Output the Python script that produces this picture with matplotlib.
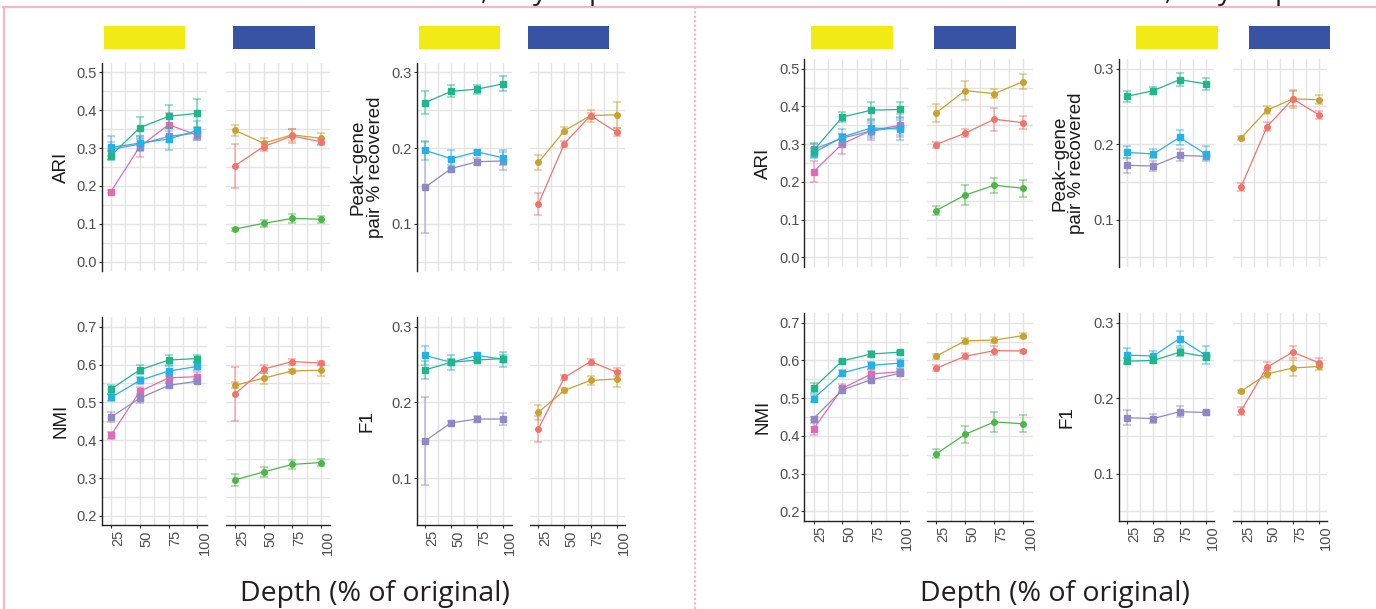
import numpy as np
import matplotlib
matplotlib.use('Agg')
import matplotlib.pyplot as plt
from matplotlib.patches import Rectangle
from matplotlib.lines import Line2D
from matplotlib.ticker import FormatStrFormatter

plt.rcParams['font.family'] = ['Liberation Sans', 'DejaVu Sans']

W, H = 1376, 609

depth = [25, 50, 75, 100]

COLOURS = {
    "teal": "#1DB68D", "cyan": "#24B1E6", "purple": "#8F88C5", "pink": "#DE6CB4",
    "gold": "#C9A12D", "salmon": "#F0736C", "green": "#4BB748",
}
SQUARES = ["pink", "purple", "cyan", "teal"]
CIRCLES = ["green", "gold", "salmon"]

# ---- left half ----
ari_a_mean = {"teal": [0.280, 0.354, 0.384, 0.392], "cyan": [0.302, 0.313, 0.324, 0.347],
              "purple": [0.297, 0.310, 0.331, 0.340], "pink": [0.185, 0.304, 0.362, 0.334],
              "gold": [0.347, 0.313, 0.335, 0.326], "salmon": [0.253, 0.304, 0.332, 0.317],
              "green": [0.086, 0.101, 0.114, 0.112]}
ari_a_err = {"teal": [0.012, 0.028, 0.030, 0.037], "cyan": [0.030, 0.020, 0.028, 0.025],
             "purple": [0.018, 0.015, 0.015, 0.012], "pink": [0.005, 0.027, 0.030, 0.012],
             "gold": [0.014, 0.015, 0.015, 0.015], "salmon": [0.058, 0.012, 0.018, 0.008],
             "green": [0.004, 0.010, 0.013, 0.009]}

peak_a_mean = {"teal": [0.260, 0.275, 0.278, 0.285], "cyan": [0.197, 0.186, 0.195, 0.187],
               "purple": [0.148, 0.173, 0.182, 0.183],
               "gold": [0.181, 0.223, 0.243, 0.244], "salmon": [0.126, 0.206, 0.243, 0.221]}
peak_a_err = {"teal": [0.015, 0.008, 0.006, 0.010], "cyan": [0.013, 0.012, 0.003, 0.010],
              "purple": [0.060, 0.005, 0.005, 0.012],
              "gold": [0.010, 0.005, 0.008, 0.017], "salmon": [0.015, 0.004, 0.004, 0.005]}

nmi_a_mean = {"teal": [0.535, 0.586, 0.612, 0.616], "cyan": [0.513, 0.558, 0.583, 0.595],
              "purple": [0.461, 0.511, 0.545, 0.556], "pink": [0.413, 0.529, 0.565, 0.568],
              "gold": [0.545, 0.564, 0.583, 0.585], "salmon": [0.522, 0.588, 0.608, 0.604],
              "green": [0.295, 0.316, 0.336, 0.341]}
nmi_a_err = {"teal": [0.012, 0.012, 0.012, 0.008], "cyan": [0.010, 0.010, 0.012, 0.010],
             "purple": [0.014, 0.012, 0.006, 0.006], "pink": [0.010, 0.012, 0.010, 0.012],
             "gold": [0.008, 0.015, 0.006, 0.014], "salmon": [0.072, 0.010, 0.008, 0.006],
             "green": [0.015, 0.014, 0.012, 0.008]}

f1_a_mean = {"teal": [0.243, 0.253, 0.256, 0.258], "cyan": [0.262, 0.253, 0.262, 0.257],
             "purple": [0.149, 0.173, 0.178, 0.178],
             "gold": [0.187, 0.216, 0.229, 0.231], "salmon": [0.165, 0.233, 0.254, 0.240]}
f1_a_err = {"teal": [0.012, 0.004, 0.003, 0.004], "cyan": [0.012, 0.010, 0.003, 0.010],
            "purple": [0.058, 0.003, 0.004, 0.008],
            "gold": [0.010, 0.003, 0.006, 0.011], "salmon": [0.017, 0.003, 0.004, 0.005]}

# ---- right half ----
ari_b_mean = {"teal": [0.283, 0.372, 0.390, 0.392], "cyan": [0.277, 0.319, 0.343, 0.340],
              "purple": [0.286, 0.316, 0.335, 0.345], "pink": [0.227, 0.301, 0.336, 0.350],
              "gold": [0.383, 0.442, 0.434, 0.466], "salmon": [0.299, 0.329, 0.366, 0.357],
              "green": [0.124, 0.165, 0.191, 0.183]}
ari_b_err = {"teal": [0.020, 0.012, 0.022, 0.020], "cyan": [0.012, 0.020, 0.022, 0.030],
             "purple": [0.015, 0.012, 0.020, 0.020], "pink": [0.027, 0.027, 0.025, 0.030],
             "gold": [0.024, 0.026, 0.012, 0.020], "salmon": [0.008, 0.010, 0.030, 0.017],
             "green": [0.013, 0.026, 0.020, 0.023]}

peak_b_mean = {"teal": [0.2635, 0.271, 0.2855, 0.280], "cyan": [0.189, 0.187, 0.209, 0.187],
               "purple": [0.172, 0.171, 0.185, 0.184],
               "gold": [0.208, 0.245, 0.260, 0.259], "salmon": [0.143, 0.223, 0.260, 0.239]}
peak_b_err = {"teal": [0.007, 0.005, 0.009, 0.008], "cyan": [0.008, 0.006, 0.010, 0.010],
              "purple": [0.010, 0.007, 0.008, 0.004],
              "gold": [0.003, 0.005, 0.012, 0.006], "salmon": [0.005, 0.006, 0.010, 0.005]}

nmi_b_mean = {"teal": [0.527, 0.599, 0.617, 0.622], "cyan": [0.499, 0.567, 0.587, 0.593],
              "purple": [0.446, 0.522, 0.549, 0.566], "pink": [0.418, 0.526, 0.564, 0.570],
              "gold": [0.611, 0.652, 0.654, 0.666], "salmon": [0.579, 0.611, 0.626, 0.625],
              "green": [0.352, 0.404, 0.437, 0.432]}
nmi_b_err = {"teal": [0.013, 0.003, 0.008, 0.004], "cyan": [0.010, 0.008, 0.010, 0.012],
             "purple": [0.005, 0.007, 0.007, 0.006], "pink": [0.017, 0.012, 0.010, 0.007],
             "gold": [0.006, 0.008, 0.007, 0.006], "salmon": [0.008, 0.008, 0.012, 0.004],
             "green": [0.012, 0.022, 0.027, 0.022]}

f1_b_mean = {"teal": [0.249, 0.250, 0.261, 0.255], "cyan": [0.257, 0.256, 0.279, 0.257],
             "purple": [0.174, 0.173, 0.182, 0.181],
             "gold": [0.209, 0.232, 0.240, 0.242], "salmon": [0.183, 0.241, 0.261, 0.247]}
f1_b_err = {"teal": [0.004, 0.004, 0.005, 0.005], "cyan": [0.010, 0.007, 0.010, 0.012],
            "purple": [0.010, 0.006, 0.007, 0.002],
            "gold": [0.002, 0.005, 0.010, 0.005], "salmon": [0.005, 0.007, 0.008, 0.006]}

ARI_AX = dict(ylim=(-0.025, 0.525), major=np.arange(0, 0.51, 0.1), minor=np.arange(0.05, 0.5, 0.1))
NMI_AX = dict(ylim=(0.175, 0.725), major=np.arange(0.2, 0.71, 0.1), minor=np.arange(0.25, 0.7, 0.1))
SMALL_AX = dict(ylim=(0.0375, 0.3125), major=[0.1, 0.2, 0.3], minor=[0.05, 0.15, 0.25])

GRID = "#E4E4E4"
TICK_COL = "#4D4D4D"

fig = plt.figure(figsize=(W / 100, H / 100), dpi=100)


def px_axes(x0, x1, y0, y1):
    return fig.add_axes([x0 / W, 1 - y1 / H, (x1 - x0) / W, (y1 - y0) / H])


def style(ax, spec, first, bottom_row):
    ax.set_xlim(17, 108)
    ax.set_ylim(*spec["ylim"])
    ax.set_xticks(depth)
    ax.set_xticks([37.5, 62.5, 87.5], minor=True)
    ax.set_yticks(spec["major"])
    ax.set_yticks(spec["minor"], minor=True)
    ax.grid(which="both", color=GRID, lw=1.0)
    ax.set_axisbelow(True)
    for s in ax.spines.values():
        s.set_visible(False)
    ax.tick_params(which="minor", length=0)
    ax.tick_params(which="major", length=2, width=0.8, color="#333333", pad=1.5,
                   labelsize=10.5, labelcolor=TICK_COL)
    if first:
        ax.spines["left"].set_visible(True)
        ax.spines["left"].set_color("#222222")
        ax.spines["left"].set_linewidth(1.0)
        ax.yaxis.set_major_formatter(FormatStrFormatter("%.1f"))
    else:
        ax.tick_params(axis="y", left=False, labelleft=False)
    if bottom_row:
        ax.spines["bottom"].set_visible(True)
        ax.spines["bottom"].set_color("#222222")
        ax.spines["bottom"].set_linewidth(1.0)
        ax.set_xticklabels([str(d) for d in depth], rotation=90, ha="left", va="top")
    else:
        ax.tick_params(axis="x", bottom=False, labelbottom=False)


def draw_series(ax, keys, means, errs, marker, ms):
    for k in keys:
        if k not in means:
            continue
        c = COLOURS[k]
        ax.errorbar(depth, means[k], yerr=errs[k], fmt="none", ecolor=c, alpha=0.5,
                    elinewidth=1.2, capsize=2.6, capthick=1.2)
        ax.plot(depth, means[k], color=c, lw=0.9, marker=marker, ms=ms, mec=c, mfc=c)


def panel(xa, xb, ys, spec, means, errs, bottom_row):
    left = px_axes(xa[0], xa[1], ys[0], ys[1])
    style(left, spec, True, bottom_row)
    draw_series(left, SQUARES, means, errs, "s", 4.2)
    right = px_axes(xb[0], xb[1], ys[0], ys[1])
    style(right, spec, False, bottom_row)
    draw_series(right, CIRCLES, means, errs, "o", 4.0)


# left half
top_a, bot_a = (63, 271), (317.3, 525.3)
ga = ((101.7, 206.7), (225.7, 330))
gb = ((416.7, 511.7), (530, 625))
panel(ga[0], ga[1], top_a, ARI_AX, ari_a_mean, ari_a_err, False)
panel(gb[0], gb[1], top_a, SMALL_AX, peak_a_mean, peak_a_err, False)
panel(ga[0], ga[1], bot_a, NMI_AX, nmi_a_mean, nmi_a_err, True)
panel(gb[0], gb[1], bot_a, SMALL_AX, f1_a_mean, f1_a_err, True)

# right half
top_b, bot_b = (59.3, 266.7), (313.3, 520.7)
gc = ((804.3, 909.3), (926.7, 1032.7))
gd = ((1119, 1214), (1232.7, 1327))
panel(gc[0], gc[1], top_b, ARI_AX, ari_b_mean, ari_b_err, False)
panel(gd[0], gd[1], top_b, SMALL_AX, peak_b_mean, peak_b_err, False)
panel(gc[0], gc[1], bot_b, NMI_AX, nmi_b_mean, nmi_b_err, True)
panel(gd[0], gd[1], bot_b, SMALL_AX, f1_b_mean, f1_b_err, True)


def ftext(x, y, s, **kw):
    return fig.text(x / W, 1 - y / H, s, **kw)


# y axis titles
ylab = dict(rotation=90, ha="center", va="center", fontsize=13.5, color="#1A1A1A",
            linespacing=1.0)
peak_label = "Peak\u2212gene\npair % recovered"
for x, y, s in [(61, 167, "ARI"), (61, 421, "NMI"), (367, 167, peak_label), (367, 421, "F1"),
                (763, 163, "ARI"), (763, 417, "NMI"), (1068, 163, peak_label), (1067, 417, "F1")]:
    ftext(x, y, s, **ylab)

# shared x titles
for x in (375, 1055):
    ftext(x, 601, "Depth (% of original)", ha="center", va="baseline",
          fontsize=20.5, family=["Open Sans", "DejaVu Sans"], color="#231F20")

# coloured header blocks
for x0, x1, c in [(104, 185, "#F2EA14"), (233, 315, "#3853A4"), (419, 500, "#F2EA14"),
                  (528, 609, "#3853A4"), (811, 893, "#F2EA14"), (934, 1016, "#3853A4"),
                  (1136, 1218, "#F2EA14"), (1249, 1330, "#3853A4")]:
    fig.patches.append(Rectangle((x0 / W, 1 - 49 / H), (x1 - x0) / W, 23 / H,
                                 transform=fig.transFigure, color=c, lw=0))

# pink frame
PINK_FRAME = "#F5B7C2"
fig.add_artist(Line2D([3 / W, 1], [1 - 7 / H, 1 - 7 / H], color=PINK_FRAME, lw=1.6))
fig.add_artist(Line2D([4 / W, 4 / W], [0, 1 - 7 / H], color=PINK_FRAME, lw=1.6))
fig.add_artist(Line2D([695 / W, 695 / W], [0, 1 - 8 / H], color=PINK_FRAME, lw=1.6,
                      linestyle=(0, (1, 1))))

# descenders of a title cropped away above the frame
for x, s in [(484, ","), (540, "y"), (597, "p"), (1168, ","), (1225, "y"), (1283, "p")]:
    ftext(x, -1, s, ha="center", va="baseline", fontsize=20,
          family=["Open Sans", "DejaVu Sans"], color="#231F20")

fig.savefig("out.png", dpi=100, facecolor="white")
